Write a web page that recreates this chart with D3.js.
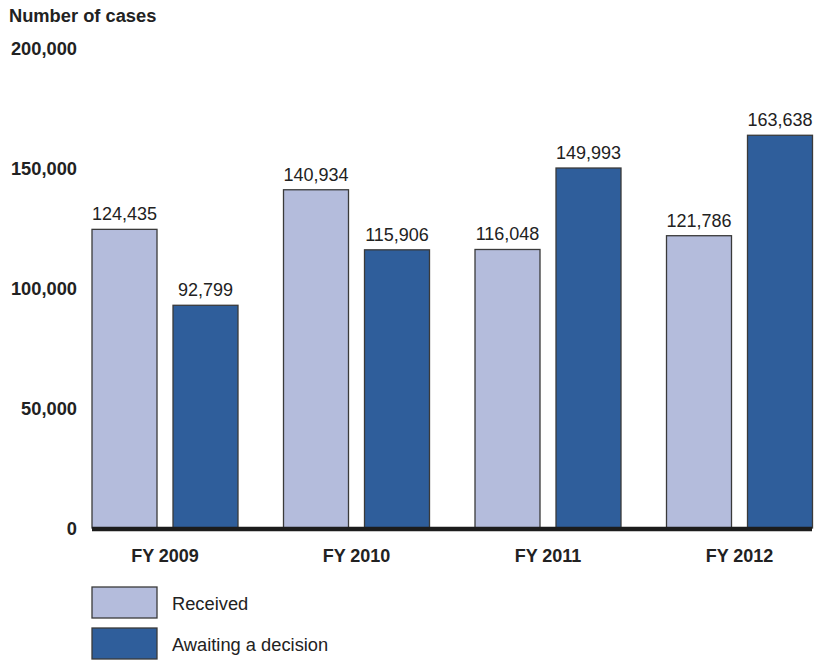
<!DOCTYPE html>
<html><head><meta charset="utf-8">
<script src="https://cdn.jsdelivr.net/npm/d3@7/dist/d3.min.js"></script>
<style>body{margin:0;background:#fff}</style>
</head><body>
<svg id="c" width="819" height="660"></svg>
<script>
const categories = ["FY 2009","FY 2010","FY 2011","FY 2012"];
const seriesNames = ["Received","Awaiting a decision"];
const received = [124435, 140934, 116048, 121786];
const awaiting = [92799, 115906, 149993, 163638];
const yTicks = [0, 50000, 100000, 150000, 200000];
const colors = ["#b4bcdc", "#2f5e9b"];

const svg = d3.select("#c");
const font = "'Liberation Sans', Arial, sans-serif";
const y = d3.scaleLinear().domain([0, 200000]).range([528, 48]);
const x0 = d3.scaleBand().domain(categories).range([92, 812.5]).paddingInner(0.2376).paddingOuter(0);
const x1 = d3.scaleBand().domain(seriesNames).range([0, x0.bandwidth()]).paddingInner(0.1975).paddingOuter(0);
const fmt = d3.format(",");

svg.append("text").attr("x", 9).attr("y", 22).attr("font-family", font)
  .attr("font-weight", "bold").attr("font-size", 18.3).attr("fill", "#222").text("Number of cases");

const yAxis = d3.axisLeft(y).tickValues(yTicks).tickFormat(fmt).tickSize(0).tickPadding(0);
const ga = svg.append("g").attr("transform", "translate(77,0)").call(yAxis);
ga.select(".domain").remove();
ga.selectAll("text").attr("font-family", font).attr("font-weight", "bold")
  .attr("font-size", 18.3).attr("fill", "#222").attr("dy", "0.35em");

const data = categories.map((c, i) => ({cat: c, vals: [received[i], awaiting[i]]}));
const g = svg.append("g");
const groups = g.selectAll("g.grp").data(data).join("g")
  .attr("transform", d => `translate(${x0(d.cat)},0)`);
groups.selectAll("rect").data(d => d.vals.map((v, j) => ({s: seriesNames[j], v, j}))).join("rect")
  .attr("x", d => x1(d.s)).attr("width", x1.bandwidth())
  .attr("y", d => y(d.v)).attr("height", d => y(0) - y(d.v))
  .attr("fill", d => colors[d.j]).attr("stroke", "#3a3a3a").attr("stroke-width", 1.3);
groups.selectAll("text").data(d => d.vals.map((v, j) => ({s: seriesNames[j], v, j}))).join("text")
  .attr("x", d => x1(d.s) + x1.bandwidth() / 2).attr("y", d => y(d.v) - 9)
  .attr("text-anchor", "middle").attr("font-family", font).attr("font-size", 18)
  .attr("fill", "#222").text(d => fmt(d.v));

// baseline axis
svg.append("line").attr("x1", 92).attr("x2", 812).attr("y1", y(0) + 1).attr("y2", y(0) + 1)
  .attr("stroke", "#1c1c1c").attr("stroke-width", 4.5);

const xAxis = d3.axisBottom(x0).tickSize(0).tickPadding(0);
const gx = svg.append("g").attr("transform", "translate(0,562)").call(xAxis);
gx.select(".domain").remove();
gx.selectAll("text").attr("font-family", font).attr("font-weight", "bold")
  .attr("font-size", 18).attr("fill", "#222").attr("dy", "0");

// legend
const lg = svg.append("g");
seriesNames.forEach((s, i) => {
  const ly = 587 + i * 41;
  lg.append("rect").attr("x", 92).attr("y", ly).attr("width", 65).attr("height", 31)
    .attr("fill", colors[i]).attr("stroke", "#3a3a3a").attr("stroke-width", 1.3);
  lg.append("text").attr("x", 172).attr("y", ly + 22.5)
    .attr("font-family", font).attr("font-size", 18.3).attr("fill", "#222").text(s);
});
</script>
</body></html>
